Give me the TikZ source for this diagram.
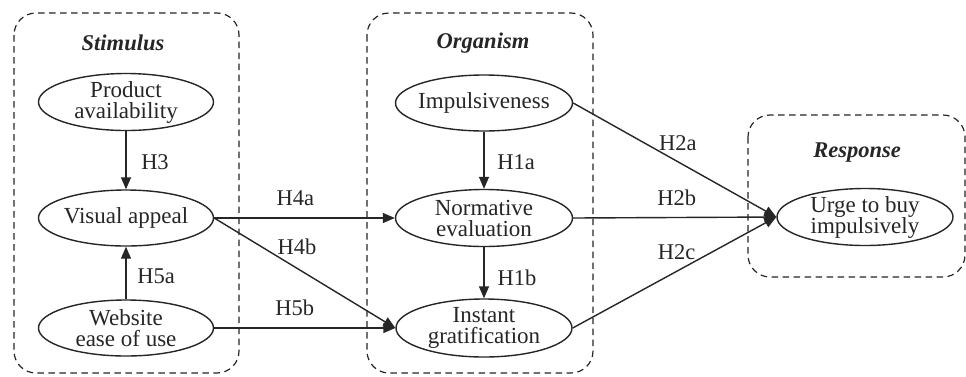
\documentclass[tikz,border=0pt]{standalone}
\usepackage{fontspec}
\setmainfont{Liberation Serif}
\usetikzlibrary{shapes.geometric,arrows.meta}

\tikzset{
  ink/.style={draw=black!85},
  group/.style={ink, line width=1.2pt, dash pattern=on 6.5pt off 4.5pt, rounded corners=22pt},
  oval/.style={ink, ellipse, line width=1.4pt, inner sep=0pt},
  caption/.style={font=\fontsize{23}{21}\selectfont, align=center, text=black!85, inner sep=0pt},
  title/.style={caption, font=\fontsize{22.5}{21}\selectfont\bfseries\itshape},
  hyp/.style={caption, font=\fontsize{22.5}{21}\selectfont},
  link/.style={ink, line width=1.4pt, -{Triangle[length=12pt,width=10pt]}},
}

\begin{document}
\begin{tikzpicture}[x=1pt, y=-1pt]
  \useasboundingbox[fill=white] (0,0) rectangle (966,376);

  % group frames
  \draw[group] (14,13) rectangle (239,373);
  \draw[group] (367,13) rectangle (593,373);
  \draw[group] (748,115) rectangle (965,277);

  \node[title] (tstim) at (123,43) {Stimulus};
  \node[title] (torg)  at (483,43) {Organism};
  \node[title] (tresp) at (857,153) {Response};

  % constructs
  \node[oval, minimum width=175pt, minimum height=57pt] (prod) at (126,102) {};
  \node[oval, minimum width=175pt, minimum height=56pt] (vis)  at (126,218) {};
  \node[oval, minimum width=175pt, minimum height=56pt] (web)  at (126,328) {};
  \node[oval, minimum width=177pt, minimum height=56pt] (imp)  at (484,103) {};
  \node[oval, minimum width=177pt, minimum height=57pt] (norm) at (484,218) {};
  \node[oval, minimum width=176pt, minimum height=58pt] (inst) at (484,328) {};
  \node[oval, minimum width=176pt, minimum height=57pt] (urge) at (865,217) {};

  \node[caption] (prodt) at (prod) {Product\\availability};
  \node[caption] (vist)  at (vis)  {Visual appeal};
  \node[caption] (webt)  at (web)  {Website\\ease of use};
  \node[caption] (impt)  at (imp)  {Impulsiveness};
  \node[caption] (normt) at (norm) {Normative\\evaluation};
  \node[caption] (instt) at (inst) {Instant\\gratification};
  \node[caption] (urget) at (urge) {Urge to buy\\impulsively};

  % hypothesised paths
  \draw[link] (prod.south) -- node[hyp, pos=0.54, xshift=29pt] {H3} (vis.north);
  \draw[link] (web.north)  -- node[hyp, pos=0.43, xshift=30pt] {H5a} (vis.south);
  \draw[link] (imp.south)  -- node[hyp, pos=0.54, xshift=32pt] {H1a} (norm.north);
  \draw[link] (norm.south) -- node[hyp, pos=0.60, xshift=33pt] {H1b} (inst.north);

  \draw[link] (vis.east) -- node[hyp, pos=0.45, yshift=20pt] {H4a} (norm.west);
  \draw[link] (vis.east) -- node[hyp, pos=0.457, yshift=21pt] {H4b} (inst.west);
  \draw[link] (web.east) -- node[hyp, pos=0.445, yshift=20pt] {H5b} (inst.west);

  \draw[link] (imp.east)  -- node[hyp, pos=0.515, yshift=19pt] {H2a} (urge.west);
  \draw[link] (norm.east) -- node[hyp, pos=0.51, yshift=20pt] {H2b} (urge.west);
  \draw[link] (inst.east) -- node[hyp, pos=0.51, yshift=19pt] {H2c} (urge.west);
\end{tikzpicture}
\end{document}
